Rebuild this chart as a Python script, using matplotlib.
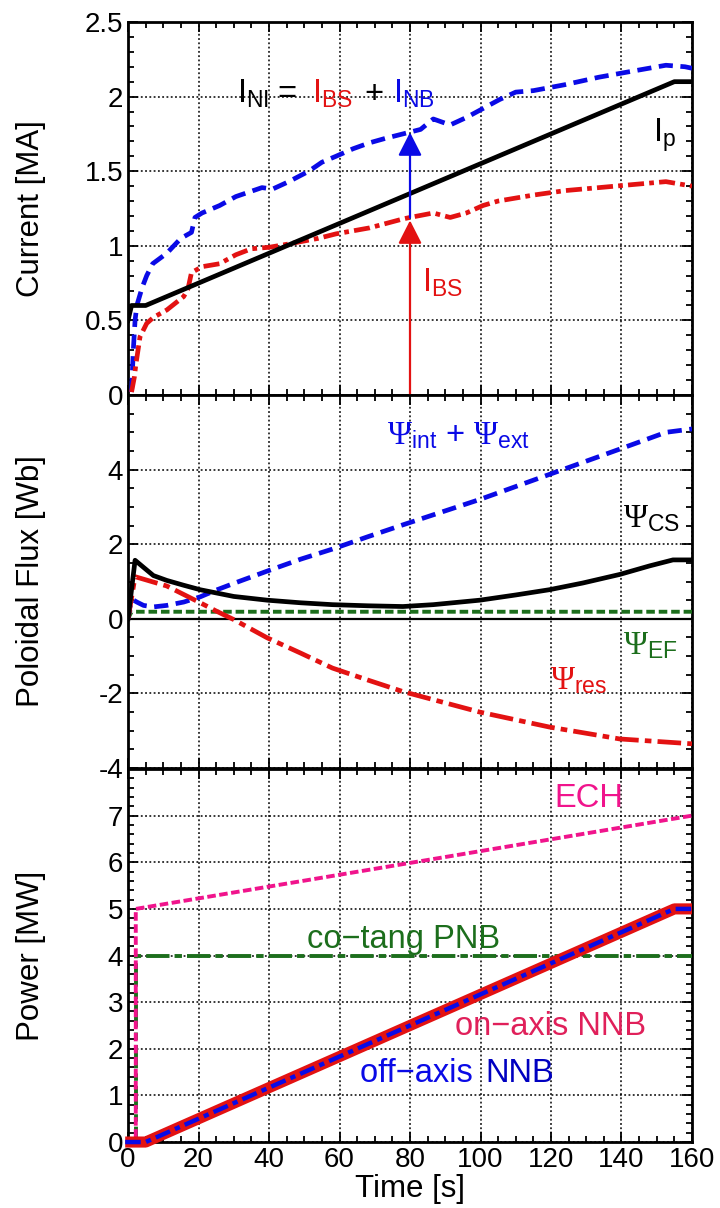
"""Plasma current, poloidal flux and heating power waveforms (three stacked panels)."""
import matplotlib
matplotlib.use("Agg")
import matplotlib.pyplot as plt
from matplotlib.ticker import MultipleLocator

# ---- data: top panel (current, MA) ----
T_IP = [0, 1, 5, 155, 160]
IP = [0.5, 0.6, 0.6, 2.1, 2.1]

T_INI = [1.0, 1.5, 2.0, 2.5, 4, 5.3, 7, 11, 15, 18, 19, 21, 26, 30.6, 38, 41, 45.6,
         51.3, 55, 59, 63.8, 68.5, 73, 78, 83, 86.6, 91.4, 96, 100.7, 105.4, 110,
         115, 119.5, 124, 133.6, 143, 152.6, 158, 160]
I_NI = [0.02, 0.3, 0.5, 0.6, 0.72, 0.8, 0.88, 0.95, 1.05, 1.09, 1.19, 1.22, 1.27,
        1.33, 1.39, 1.38, 1.43, 1.5, 1.56, 1.6, 1.65, 1.69, 1.72, 1.75, 1.78, 1.85,
        1.81, 1.86, 1.92, 1.98, 2.03, 2.04, 2.06, 2.08, 2.13, 2.17, 2.21, 2.20, 2.19]

T_IBS = [1.0, 1.8, 2.2, 3.4, 5.3, 7.2, 11, 15.8, 17, 18, 21, 26, 30.6, 35, 40, 45,
         49.5, 54, 59, 68.5, 78, 80, 86.6, 91.4, 96, 100.7, 105, 115, 124, 133.6,
         143, 152.6, 160]
I_BS = [0.02, 0.12, 0.2, 0.39, 0.48, 0.52, 0.57, 0.66, 0.71, 0.82, 0.86, 0.88, 0.94,
        0.98, 0.99, 1.01, 1.03, 1.05, 1.08, 1.12, 1.18, 1.19, 1.22, 1.19, 1.22, 1.27,
        1.30, 1.34, 1.37, 1.39, 1.41, 1.43, 1.40]

# arrows at t = 80 s: (start, end) in MA
ARROW_T = 80
ARROW_BS = (0.0, 1.17)
ARROW_NB = (1.19, 1.76)

# ---- data: middle panel (poloidal flux, Wb) ----
T_CS = [0, 2, 4.4, 7.2, 11, 15.8, 20.5, 30, 39.5, 49, 58, 68, 78, 86.6, 99.8, 110,
        119.5, 129, 139.5, 148, 154.6, 160]
PSI_CS = [0, 1.57, 1.38, 1.16, 1.03, 0.9, 0.78, 0.6, 0.5, 0.43, 0.38, 0.35, 0.33,
          0.38, 0.5, 0.64, 0.78, 0.96, 1.19, 1.42, 1.58, 1.58]

T_EXT = [0, 0.5, 1.2, 2.5, 4.4, 7.2, 11, 15.8, 20.5, 25, 30, 39.5, 49, 58, 68, 78,
         99.8, 119.5, 139.5, 152.6, 160]
PSI_EXT = [0, 0.3, 0.52, 0.45, 0.36, 0.32, 0.36, 0.45, 0.59, 0.77, 0.95, 1.28, 1.6,
           1.87, 2.2, 2.52, 3.2, 3.87, 4.55, 5.0, 5.09]

T_RES = [0, 2, 11, 20.5, 25, 30, 39.5, 49, 58, 68, 78, 99.8, 119.5, 139.5, 160]
PSI_RES = [0, 1.13, 0.88, 0.43, 0.21, -0.02, -0.51, -0.92, -1.32, -1.64, -1.95,
           -2.5, -2.9, -3.22, -3.35]

T_EF = [0, 1, 160]
PSI_EF = [0, 0.19, 0.19]

# ---- data: bottom panel (power, MW) ----
T_ECH = [0, 2.2, 2.2, 160]
P_ECH = [0, 0, 5, 7]
T_PNB = [0, 2.2, 2.2, 160]
P_PNB = [0, 0, 4, 4]
T_NNB = [-0.8, 5, 155, 160]
P_NNB = [0, 0, 5, 5]

X_TICKS = [0, 20, 40, 60, 80, 100, 120, 140, 160]
CUR_TICKS = [0, 0.5, 1, 1.5, 2, 2.5]
FLUX_TICKS = [-4, -2, 0, 2, 4]
POW_TICKS = [0, 1, 2, 3, 4, 5, 6, 7]

BLUE = "#0A0AE6"
NAVY = "#0000C0"
RED = "#E31212"
CRIMSON = "#E0205A"
GREEN = "#1C6E1C"
PINK = "#F0148C"
BLACK = "#000000"

plt.rcParams["font.family"] = ["Liberation Sans", "DejaVu Sans"]
plt.rcParams["mathtext.fontset"] = "custom"
plt.rcParams["mathtext.rm"] = "Liberation Serif"
plt.rcParams["mathtext.sf"] = "Liberation Sans"
plt.rcParams["mathtext.it"] = "Liberation Serif:italic"
plt.rcParams["axes.unicode_minus"] = False

TICK_FS = 20
LABEL_FS = 22.5
NOTE_FS = 23.5
LW = 3.4


def _style(ax, ylim, yticks, yminor, ylabel, show_x=False):
    ax.set_xlim(0, 160)
    ax.set_ylim(*ylim)
    ax.set_xticks(X_TICKS)
    ax.xaxis.set_minor_locator(MultipleLocator(5))
    ax.set_yticks(yticks)
    ax.yaxis.set_minor_locator(MultipleLocator(yminor))
    ax.grid(True, which="major", color="black", linestyle=(0, (1.2, 1.6)), linewidth=1.1)
    ax.tick_params(which="both", direction="in", top=True, right=True,
                   labelsize=TICK_FS, width=1.3)
    ax.tick_params(which="major", length=7)
    ax.tick_params(which="minor", length=4.5)
    for s in ax.spines.values():
        s.set_linewidth(2.0)
    if not show_x:
        ax.tick_params(labelbottom=False)
    ax.set_ylabel(ylabel, fontsize=LABEL_FS)
    ax.yaxis.set_label_coords(-0.146, 0.5)


def _note(ax, x, y, text, color, size=NOTE_FS):
    ax.text(x, y, text, color=color, fontsize=size, ha="left", va="baseline", zorder=6)


def build():
    fig = plt.figure(figsize=(7.2, 12.08), dpi=100)
    left, width, height = 0.1778, 0.7833, 0.3088
    ax1 = fig.add_axes([left, 0.6730, width, height])
    ax2 = fig.add_axes([left, 0.3642, width, height])
    ax3 = fig.add_axes([left, 0.0546, width, height])

    # ---- current ----
    _style(ax1, (0, 2.5), CUR_TICKS, 0.1, "Current [MA]")
    ax1.yaxis.set_major_formatter(plt.FuncFormatter(lambda v, p: f"{v:g}"))
    ax1.plot(T_INI, I_NI, color=BLUE, lw=LW, dashes=(3.0, 1.6), zorder=3)
    ax1.plot(T_IBS, I_BS, color=RED, lw=LW, dashes=(3.4, 1.1, 1.0, 1.1), zorder=3)
    ax1.plot(T_IP, IP, color=BLACK, lw=LW, zorder=4)

    for (y0, y1), c in ((ARROW_BS, RED), (ARROW_NB, BLUE)):
        ax1.annotate("", xy=(ARROW_T, y1), xytext=(ARROW_T, y0),
                     arrowprops=dict(arrowstyle="-|>,head_length=0.55,head_width=0.28",
                                     color=c, lw=1.6, mutation_scale=26,
                                     shrinkA=0, shrinkB=0), zorder=5)

    _note(ax1, 31, 1.96, r"$\mathsf{I_{NI}}$", BLACK)
    _note(ax1, 42.3, 1.96, "=", BLACK)
    _note(ax1, 52.2, 1.96, r"$\mathsf{I_{BS}}$", RED)
    _note(ax1, 67.0, 1.96, "+", BLACK)
    _note(ax1, 75.2, 1.96, r"$\mathsf{I_{NB}}$", BLUE)
    _note(ax1, 149, 1.70, r"$\mathsf{I_{p}}$", BLACK)
    _note(ax1, 83.3, 0.69, r"$\mathsf{I_{BS}}$", RED)

    # ---- poloidal flux ----
    _style(ax2, (-4, 6), FLUX_TICKS, 0.5, "Poloidal Flux [Wb]")
    ax2.axhline(0, color="black", lw=1.6, zorder=2)
    ax2.plot(T_EF, PSI_EF, color=GREEN, lw=2.8, dashes=(2.2, 1.0), zorder=3)
    ax2.plot(T_EXT, PSI_EXT, color=BLUE, lw=LW, dashes=(3.0, 1.6), zorder=3)
    ax2.plot(T_RES, PSI_RES, color=RED, lw=LW, dashes=(5.0, 1.3, 1.4, 1.3), zorder=3)
    ax2.plot(T_CS, PSI_CS, color=BLACK, lw=LW, zorder=4)

    _note(ax2, 73.4, 4.68, r"$\Psi_{\mathsf{int}}$ + $\Psi_{\mathsf{ext}}$", BLUE)
    _note(ax2, 140.4, 2.46, r"$\Psi_{\mathsf{CS}}$", BLACK)
    _note(ax2, 140.4, -0.95, r"$\Psi_{\mathsf{EF}}$", GREEN)
    _note(ax2, 119.7, -1.89, r"$\Psi_{\mathsf{res}}$", RED)

    # ---- power ----
    _style(ax3, (0, 8), POW_TICKS, 0.2, "Power [MW]", show_x=True)
    ax3.set_xlabel("Time [s]", fontsize=LABEL_FS, labelpad=1)
    ax3.plot(T_PNB, P_PNB, color=GREEN, lw=2.8, dashes=(6.0, 1.3, 1.9, 1.3), zorder=3)
    ax3.plot(T_ECH, P_ECH, color=PINK, lw=2.8, dashes=(2.2, 0.9), zorder=3)
    ax3.plot(T_NNB, P_NNB, color=RED, lw=8, zorder=4, clip_on=False,
             solid_capstyle="butt")
    ax3.plot(T_NNB, P_NNB, color=BLUE, lw=3.2, dashes=(3.5, 1.2, 1.2, 1.2), zorder=5,
             clip_on=False)

    _note(ax3, 121, 7.19, "ECH", PINK)
    _note(ax3, 50.8, 4.16, "co\u2212tang PNB", GREEN)
    _note(ax3, 92.8, 2.30, "on\u2212axis NNB", CRIMSON)
    _note(ax3, 65.8, 1.29, "off\u2212axis ", BLUE)
    _note(ax3, 101.3, 1.29, "NNB", NAVY)

    fig.savefig("out.png", dpi=100, facecolor="white")
    plt.close(fig)


if __name__ == "__main__":
    build()
